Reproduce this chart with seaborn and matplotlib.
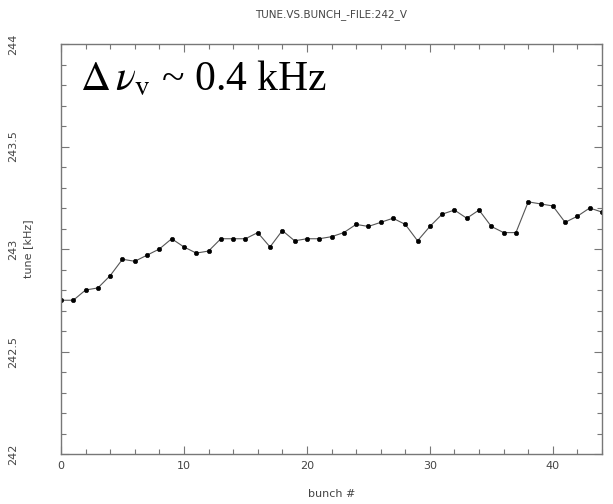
import matplotlib
matplotlib.use("Agg")
import matplotlib.pyplot as plt
from matplotlib.ticker import MultipleLocator, FuncFormatter
import pandas as pd
import seaborn as sns

# tune measured for each bunch (kHz)
bunch = list(range(45))
tune = [242.75, 242.75, 242.80, 242.81, 242.87, 242.95, 242.94, 242.97, 243.00, 243.05,
        243.01, 242.98, 242.99, 243.05, 243.05, 243.05, 243.08, 243.01, 243.09, 243.04,
        243.05, 243.05, 243.06, 243.08, 243.12, 243.11, 243.13, 243.15, 243.12, 243.04,
        243.11, 243.17, 243.19, 243.15, 243.19, 243.11, 243.08, 243.08, 243.23, 243.22,
        243.21, 243.13, 243.16, 243.20, 243.18]

title = "TUNE.VS.BUNCH_-FILE:242_V"
x_label = "bunch #"
y_label = "tune [kHz]"
note = r"$\Delta\,\nu_{\rm v}$ ~ 0.4 kHz"

df = pd.DataFrame({"bunch": bunch, "tune": tune})

sns.set_style("ticks")
plt.rcParams["font.family"] = ["DejaVu Sans"]
plt.rcParams["mathtext.fontset"] = "stix"

W, H = 613, 504
fig = plt.figure(figsize=(W / 100, H / 100), dpi=100)
ax = fig.add_axes([61 / W, 50 / H, 541 / W, 410 / H])

sns.lineplot(data=df, x="bunch", y="tune", ax=ax, color="#555555", lw=0.8,
             marker="o", markersize=3.2, markerfacecolor="black",
             markeredgecolor="black", markeredgewidth=0.4)

ax.set_xlim(0, 44)
ax.set_ylim(242, 244)
ax.xaxis.set_major_locator(MultipleLocator(10))
ax.xaxis.set_minor_locator(MultipleLocator(2))
ax.yaxis.set_major_locator(MultipleLocator(0.5))
ax.yaxis.set_minor_locator(MultipleLocator(0.1))
ax.yaxis.set_major_formatter(FuncFormatter(lambda v, p: f"{v:g}"))

frame_col = "#777777"
text_col = "#444444"
for s in ax.spines.values():
    s.set_color(frame_col)
    s.set_linewidth(1.0)

ax.tick_params(which="both", direction="in", top=True, right=True,
               color=frame_col, labelcolor=text_col, labelsize=8, width=0.8)
ax.tick_params(which="major", length=6)
ax.tick_params(which="minor", length=3.5)
ax.tick_params(axis="x", which="major", pad=5)
ax.tick_params(axis="y", which="major", pad=31)
for lab in ax.get_yticklabels():
    lab.set_rotation(90)
    lab.set_va("center")

ax.set_xlabel(x_label, fontsize=8, color=text_col)
ax.set_ylabel(y_label, fontsize=8, color=text_col)
ax.xaxis.set_label_coords(0.5, -0.085)
ax.yaxis.set_label_coords(-0.051, 0.5)

fig.text(331 / W, 1 - 15 / H, title, ha="center", va="center",
         fontsize=7.5, color=text_col)

ax.text(80 / W, 1 - 90 / H, note, transform=fig.transFigure,
        ha="left", va="baseline", fontsize=30, color="black",
        family="Liberation Serif")

fig.savefig("out.png", dpi=100)
